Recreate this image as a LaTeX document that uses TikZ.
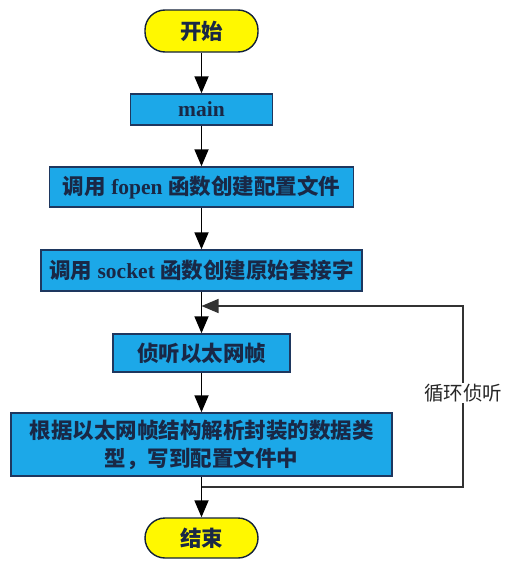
\documentclass[tikz,border=0pt]{standalone}
\usepackage{fontspec}
\setmainfont{Liberation Serif}
\newfontfamily\cjk{Noto Sans CJK SC}
\usetikzlibrary{arrows.meta}
\definecolor{boxfill}{RGB}{28,168,232}
\definecolor{boxline}{RGB}{30,55,95}
\definecolor{txt}{RGB}{25,40,70}
\definecolor{termfill}{RGB}{255,248,0}
\begin{document}
\begin{tikzpicture}[x=1pt,y=-1pt,
  procbox/.style={draw=boxline,line width=1.4pt,fill=boxfill,text=txt,font=\fontsize{21.5}{28}\selectfont\bfseries,align=center,inner sep=0pt},
  term/.style={draw=boxline!60!black,line width=1.4pt,fill=termfill,text=txt,rounded corners=20pt,font=\fontsize{21.5}{24}\selectfont\bfseries,inner sep=0pt,minimum width=113pt},
  arr/.style={line width=1.8pt,-{Triangle[width=14pt,length=17pt]}},
  loopline/.style={line width=1.4pt,draw=black!80,-{Triangle[width=14pt,length=17pt]}},
  lbl/.style={fill=white,text=black!85,font=\fontsize{19.5}{22}\selectfont\cjk,inner sep=1pt}]
\useasboundingbox (0,0) rectangle (514,570);
\node[term,minimum height=42pt] (start) at (201.5,31) {\cjk 开始};
\node[procbox,minimum width=142pt,minimum height=31pt] (main) at (201.5,109.5) {main};
\node[procbox,minimum width=304pt,minimum height=40pt] (fopen) at (201.5,187) {{\cjk 调用} fopen {\cjk 函数创建配置文件}};
\node[procbox,minimum width=321pt,minimum height=41pt] (socket) at (201.5,270.5) {{\cjk 调用} socket {\cjk 函数创建原始套接字}};
\node[procbox,minimum width=177pt,minimum height=38pt] (listen) at (201.5,353) {\cjk 侦听以太网帧};
\node[procbox,minimum width=381pt,minimum height=63pt] (parse) at (201.5,444.5) {\cjk 根据以太网帧结构解析封装的数据类\\\cjk 型，写到配置文件中};
\node[term,minimum height=40pt] (end) at (201.5,538) {\cjk 结束};
\coordinate (j1) at (201.5,306);
\coordinate (j2) at (201.5,487);
\coordinate (c1) at (463,487);
\coordinate (c2) at (463,306);
\draw[arr] (start) -- (main);
\draw[arr] (main) -- (fopen);
\draw[arr] (fopen) -- (socket);
\draw[arr] (socket) -- (listen);
\draw[arr] (listen) -- (parse);
\draw[arr] (parse) -- (end);
\draw[loopline] (j2) -- (c1) -- node[lbl,pos=0.52]{循环侦听} (c2) -- (j1);
\end{tikzpicture}
\end{document}
